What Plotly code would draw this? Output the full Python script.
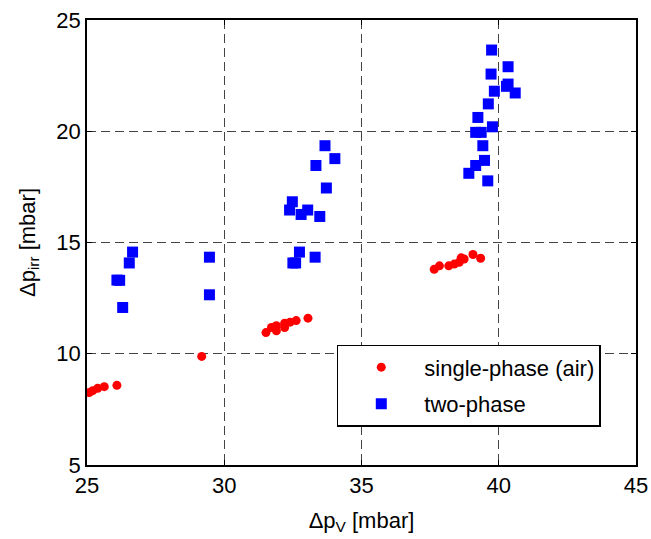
import plotly.graph_objects as go

# single-phase (air)
sp_x = [25.08, 25.21, 25.39, 25.63, 26.09, 29.18, 31.52, 31.72, 31.90, 31.90, 32.20, 32.20,
        32.40, 32.62, 33.05, 37.65, 37.84, 38.18, 38.38, 38.56, 38.63, 38.74, 39.06, 39.34]
sp_y = [8.26, 8.34, 8.45, 8.52, 8.58, 9.88, 10.95, 11.18, 11.26, 11.03, 11.37, 11.18,
        11.42, 11.49, 11.60, 13.80, 13.95, 13.95, 14.03, 14.11, 14.31, 14.26, 14.46, 14.29]

# two-phase
tp_x = [26.09, 26.19, 26.30, 26.54, 26.66, 29.46, 29.46, 32.38, 32.48, 32.80, 33.04, 32.50,
        32.60, 32.74, 33.31, 33.34, 33.67, 33.72, 33.48, 34.03, 38.91, 39.16, 39.48, 39.60,
        39.42, 39.16, 39.36, 39.24, 39.77, 39.62, 39.84, 39.72, 39.74, 40.34, 40.34, 40.28, 40.60]
tp_y = [13.31, 13.30, 12.08, 14.08, 14.57, 14.34, 12.65, 16.46, 16.83, 16.26, 16.46, 14.08,
        14.08, 14.57, 14.34, 18.46, 19.35, 17.45, 16.17, 18.77, 18.11, 18.46, 18.69, 17.77,
        19.35, 19.95, 19.95, 20.62, 20.20, 21.23, 21.80, 22.57, 23.65, 22.90, 22.12, 22.02, 21.72]

fig = go.Figure()
fig.add_trace(go.Scatter(x=sp_x, y=sp_y, mode='markers', name='single-phase (air)',
                         legendgroup='a',
                         marker=dict(color='#ff0000', size=9, symbol='circle')))
fig.add_trace(go.Scatter(x=tp_x, y=tp_y, mode='markers', name='two-phase',
                         legendgroup='b',
                         marker=dict(color='#0000ff', size=11, symbol='square')))

axis_style = dict(
    showline=True, linecolor='black', linewidth=1.5, mirror='ticks',
    ticks='inside', ticklen=5, tickcolor='black',
    showgrid=True, gridcolor='#444444', griddash='9px,5px', gridwidth=1,
    zeroline=False, tickfont=dict(size=22, color='black'),
    automargin=False,
)

fig.update_xaxes(range=[25, 45], dtick=5,
                 title=dict(text='Δp<sub>V</sub> [mbar]', font=dict(size=22, color='black')),
                 **axis_style)
fig.update_yaxes(range=[5, 25], dtick=5,
                 title=dict(text='Δp<sub>irr</sub> [mbar]', font=dict(size=22, color='black')),
                 **axis_style)

fig.update_layout(
    width=651, height=539,
    margin=dict(l=87, r=15, t=20, b=74),
    plot_bgcolor='white', paper_bgcolor='white',
    font=dict(family='Liberation Sans, Arial, sans-serif', color='black'),
    legend=dict(x=0.455, y=0.27, xanchor='left', yanchor='top',
                bgcolor='white', bordercolor='black', borderwidth=1.5,
                font=dict(size=22), itemwidth=76,
                traceorder='grouped', tracegroupgap=5),
    showlegend=True,
)

# drop the default body margin so the figure fills the window
fig.write_html("out.html", config={'displayModeBar': False},
               post_script="document.body.style.margin='0';document.body.style.overflow='hidden';")
